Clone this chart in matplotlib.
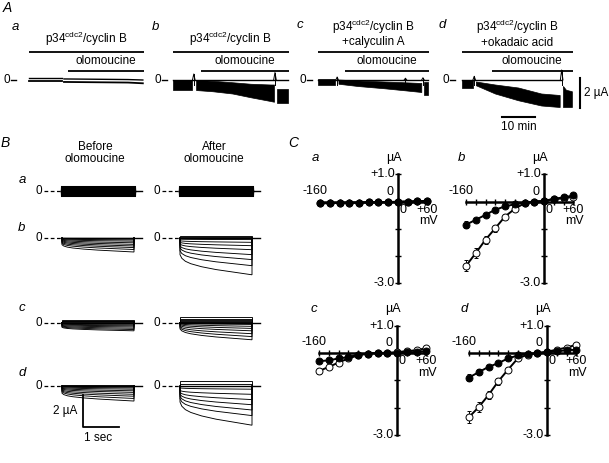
import matplotlib.pyplot as plt

plt.rcParams["font.family"] = ["Liberation Sans", "DejaVu Sans"]
plt.rcParams["mathtext.default"] = "regular"
plt.rcParams["font.size"] = 8.5

W, H = 609, 463

# ---------------- Panel A: chart records (time in min, current in uA) ----------------
A_TITLES = ["p34$^{cdc2}$/cyclin B", "p34$^{cdc2}$/cyclin B",
            "p34$^{cdc2}$/cyclin B\n+calyculin A", "p34$^{cdc2}$/cyclin B\n+okadaic acid"]
A_LETTERS = ["a", "b", "c", "d"]
A_P34_END = [34.8, 35.0, 33.5, 33.5]
A_OLO_START = [11.8, 8.5, 8.2, 9.1]
A_ZERO_X = [-5.8, -3.6, -3.6, -3.9]

# a: double thin line
AA_T1, AA_HI1, AA_LO1 = [0, 10.0], [0.13, 0.13], [-0.07, -0.07]
AA_T2, AA_HI2, AA_LO2 = [10.6, 30, 34.5], [0.07, 0.03, 0.0], [-0.13, -0.17, -0.22]

# b
AB_T1, AB_HI1, AB_LO1 = [0, 5.8], [0, 0], [-0.67, -0.67]
AB_T2 = [7.0, 12, 18, 23.5, 29.5, 30.6]
AB_HI2 = [0, -0.05, -0.15, -0.25, -0.3, -0.3]
AB_LO2 = [-0.67, -0.75, -0.9, -1.15, -1.4, -1.45]
AB_T3, AB_HI3, AB_LO3 = [31.5, 34.8], [-0.6, -0.6], [-1.55, -1.55]
AB_SPIKE_T, AB_SPIKE_PEAK = [6.3, 30.9], [0.4, 0.5]
AB_ZERO_END = 34.8

# c
AC_T1, AC_HI1, AC_LO1 = [0, 5.2], [0.07, 0.07], [-0.3, -0.3]
AC_T2 = [6.2, 12, 20, 26, 31.3]
AC_HI2 = [0.03, -0.03, -0.1, -0.15, -0.2]
AC_LO2 = [-0.25, -0.4, -0.55, -0.68, -0.8]
AC_T3, AC_HI3, AC_LO3 = [32.2, 33.3], [-0.1, -0.1], [-1.0, -1.0]
AC_SPIKE_T, AC_SPIKE_PEAK = [5.8, 26.5, 31.8], [0.2, 0.12, 0.15]
AC_ZERO_END = 33.3

# d
AD_T1, AD_HI1, AD_LO1 = [0, 3.3], [0.03, 0.03], [-0.53, -0.53]
AD_T2 = [4.2, 10, 17, 24, 29.6]
AD_HI2 = [-0.1, -0.3, -0.5, -0.9, -1.0]
AD_LO2 = [-0.35, -0.9, -1.35, -1.7, -1.8]
AD_T3, AD_HI3, AD_LO3 = [30.6, 31.5, 33.3], [-0.4, -0.65, -0.75], [-1.8, -1.8, -1.8]
AD_SPIKE_T, AD_SPIKE_PEAK = [3.7, 30.2], [0.25, 0.67]
AD_ZERO_END = 30.0

# ---------------- Panel B: current families (time in s, current in uA) ----------------
B_SHAPE_T = [0, 0.05, 0.15, 0.3, 0.6, 1.0, 1.5, 2.0]
B_SHAPE_F = [0, 0.18, 0.33, 0.45, 0.6, 0.74, 0.87, 1.0]

BA_LEVELS = [0.25, 0.2, 0.15, 0.1, 0.05, 0.0, -0.05, -0.1, -0.15, -0.2, -0.25]

BB_BEFORE_START = [-0.42, -0.34, -0.28, -0.22, -0.17, -0.12, -0.08, -0.05, -0.03, -0.01, 0.0, 0.02]
BB_BEFORE_END = [-0.875, -0.72, -0.6, -0.5, -0.4, -0.3, -0.2, -0.12, -0.06, -0.02, 0.0, 0.02]
BB_AFTER_START = [-1.04, -0.8, -0.62, -0.5, -0.38, -0.27, -0.17, -0.07, 0.0, 0.05, 0.1]
BB_AFTER_END = [-2.3, -1.73, -1.35, -1.04, -0.73, -0.48, -0.27, -0.1, 0.0, 0.05, 0.1]

BC_BEFORE_START = [-0.3, -0.26, -0.22, -0.18, -0.14, -0.1, -0.06, -0.03, 0.0, 0.04, 0.08, 0.12, 0.16]
BC_BEFORE_END = [-0.52, -0.44, -0.36, -0.28, -0.21, -0.15, -0.09, -0.04, 0.0, 0.04, 0.08, 0.12, 0.16]
BC_AFTER_START = [-0.4, -0.32, -0.25, -0.18, -0.12, -0.07, -0.03, 0.0, 0.05, 0.1, 0.17, 0.25, 0.33]
BC_AFTER_END = [-1.08, -0.88, -0.7, -0.52, -0.37, -0.24, -0.12, -0.03, 0.05, 0.1, 0.17, 0.25, 0.33]

BD_BEFORE_START = [-0.45, -0.36, -0.3, -0.24, -0.18, -0.13, -0.09, -0.05, -0.02, 0.0, 0.02, 0.05]
BD_BEFORE_END = [-0.94, -0.78, -0.64, -0.52, -0.4, -0.3, -0.2, -0.12, -0.06, -0.02, 0.02, 0.05]
BD_AFTER_START = [-1.0, -0.8, -0.65, -0.52, -0.4, -0.28, -0.12, 0.0, 0.15, 0.3]
BD_AFTER_END = [-2.45, -1.85, -1.5, -1.17, -0.85, -0.52, -0.2, 0.0, 0.15, 0.3]

# ---------------- Panel C: I-V relations (mV, uA) ----------------
IV_MV = [-160, -140, -120, -100, -80, -60, -40, -20, 0, 20, 40, 60]
CA_FILLED = [-0.06, -0.05, -0.05, -0.04, -0.04, -0.03, -0.03, -0.02, -0.01, 0.0, 0.01, 0.02]
CA_OPEN = [-0.07, -0.06, -0.05, -0.05, -0.04, -0.03, -0.03, -0.02, -0.01, 0.0, 0.01, 0.02]
CB_FILLED = [-0.85, -0.67, -0.49, -0.3, -0.18, -0.1, -0.04, 0.0, 0.02, 0.1, 0.15, 0.22]
CB_OPEN = [-2.36, -1.89, -1.4, -0.98, -0.55, -0.27, -0.06, 0.0, 0.02, 0.08, 0.12, 0.18]
CC_FILLED = [-0.3, -0.27, -0.2, -0.15, -0.06, -0.02, 0.0, 0.0, 0.0, 0.02, 0.04, 0.07]
CC_OPEN = [-0.66, -0.51, -0.35, -0.2, -0.09, -0.02, 0.0, 0.01, 0.03, 0.07, 0.1, 0.18]
CD_FILLED = [-0.9, -0.7, -0.51, -0.37, -0.2, -0.09, -0.03, 0.0, 0.02, 0.06, 0.1, 0.12]
CD_OPEN = [-2.35, -1.98, -1.54, -1.04, -0.61, -0.2, -0.06, 0.0, 0.05, 0.12, 0.2, 0.3]
CA_ERR = [0.03, 0.03, 0.02, 0.02, 0.02, 0.02, 0.01, 0.01, 0.01, 0.01, 0.01, 0.01]
CB_FILLED_ERR = [0.12, 0.08, 0.06, 0.05, 0.04, 0.03, 0.02, 0.02, 0.02, 0.02, 0.03, 0.03]
CB_OPEN_ERR = [0.2, 0.18, 0.15, 0.12, 0.09, 0.06, 0.04, 0.02, 0.02, 0.03, 0.03, 0.04]
CC_FILLED_ERR = [0.06, 0.05, 0.04, 0.03, 0.02, 0.02, 0.01, 0.01, 0.01, 0.02, 0.02, 0.03]
CC_OPEN_ERR = [0.1, 0.08, 0.06, 0.05, 0.03, 0.02, 0.02, 0.01, 0.02, 0.03, 0.04, 0.06]
CD_FILLED_ERR = [0.14, 0.1, 0.07, 0.05, 0.04, 0.03, 0.02, 0.02, 0.02, 0.03, 0.03, 0.04]
CD_OPEN_ERR = [0.22, 0.18, 0.15, 0.12, 0.09, 0.06, 0.04, 0.02, 0.03, 0.04, 0.05, 0.08]


def px_box(left, top, width, height):
    return [left / W, 1 - (top + height) / H, width / W, height / H]


def bare(ax):
    ax.set_axis_off()
    ax.patch.set_visible(False)


fig = plt.figure(figsize=(W / 100, H / 100), dpi=100)

# ---------------- A ----------------
A_PX_MIN, A_PX_UA = 3.3, 15.0
A_START_PX = [29, 173, 318, 462]
A_BASE_PX = 80
A_XLIM, A_YLIM = (-8, 38), (-2.7, 2.7)

a_segments = [
    None,
    [(AB_T1, AB_HI1, AB_LO1), (AB_T2, AB_HI2, AB_LO2), (AB_T3, AB_HI3, AB_LO3)],
    [(AC_T1, AC_HI1, AC_LO1), (AC_T2, AC_HI2, AC_LO2), (AC_T3, AC_HI3, AC_LO3)],
    [(AD_T1, AD_HI1, AD_LO1), (AD_T2, AD_HI2, AD_LO2), (AD_T3, AD_HI3, AD_LO3)],
]
a_spikes = [None, (AB_SPIKE_T, AB_SPIKE_PEAK), (AC_SPIKE_T, AC_SPIKE_PEAK), (AD_SPIKE_T, AD_SPIKE_PEAK)]
a_zero_end = [None, AB_ZERO_END, AC_ZERO_END, AD_ZERO_END]

for i in range(4):
    left = A_START_PX[i] - (0 - A_XLIM[0]) * A_PX_MIN
    top = A_BASE_PX - A_YLIM[1] * A_PX_UA
    ax = fig.add_axes(px_box(left, top, (A_XLIM[1] - A_XLIM[0]) * A_PX_MIN,
                             (A_YLIM[1] - A_YLIM[0]) * A_PX_UA))
    ax.set_xlim(*A_XLIM)
    ax.set_ylim(*A_YLIM)
    bare(ax)
    # drug bars
    ax.plot([0, A_P34_END[i]], [1.87, 1.87], color="k", lw=1.3, solid_capstyle="butt")
    ax.plot([A_OLO_START[i], A_P34_END[i]], [0.63, 0.63], color="k", lw=1.3, solid_capstyle="butt")
    ax.text(A_P34_END[i] / 2, 2.1, A_TITLES[i], ha="center", va="bottom", linespacing=1.0)
    ax.text((A_OLO_START[i] + A_P34_END[i]) / 2, 0.85, "olomoucine", ha="center", va="bottom")
    ax.text(A_ZERO_X[i], 0, "0", ha="right", va="center")
    ax.plot([A_ZERO_X[i] + 0.4, A_ZERO_X[i] + 1.9], [0, 0], color="k", lw=1.0)
    if i == 0:
        for t, hi, lo in [(AA_T1, AA_HI1, AA_LO1), (AA_T2, AA_HI2, AA_LO2)]:
            ax.plot(t, hi, color="k", lw=1.0)
            ax.plot(t, lo, color="k", lw=1.3)
        continue
    ax.plot([0, a_zero_end[i]], [0, 0], color="k", lw=1.0)
    for t, hi, lo in a_segments[i]:
        ax.fill_between(t, hi, lo, color="k", lw=0.5, edgecolor="k")
    for t, peak in zip(*a_spikes[i]):
        ax.plot([t - 0.4, t, t + 0.4], [0, peak, 0], color="k", lw=0.7)
        ax.plot([t, t], [peak, -0.3], color="k", lw=0.7)
    if i == 3:
        ax.plot([35.8, 35.8], [0.13, -1.87], color="k", lw=1.5, clip_on=False)
        ax.text(37.0, -0.87, "2 µA", ha="left", va="center")
        ax.plot([12.1, 22.1], [-2.47, -2.47], color="k", lw=1.5, clip_on=False)
        ax.text(17.1, -2.75, "10 min", ha="center", va="top")

# ---------------- B ----------------
B_PX_S, B_PX_UA = 36.0, 16.0
B_XLIM, B_YLIM = (-0.8, 2.3), (-2.8, 0.8)
B_START_PX = [62, 180]
B_BASE_PX = [191, 238, 322.5, 386]

b_families = [
    [(BA_LEVELS, BA_LEVELS), (BA_LEVELS, BA_LEVELS)],
    [(BB_BEFORE_START, BB_BEFORE_END), (BB_AFTER_START, BB_AFTER_END)],
    [(BC_BEFORE_START, BC_BEFORE_END), (BC_AFTER_START, BC_AFTER_END)],
    [(BD_BEFORE_START, BD_BEFORE_END), (BD_AFTER_START, BD_AFTER_END)],
]

b_axes = {}
for r in range(4):
    for c in range(2):
        left = B_START_PX[c] - (0 - B_XLIM[0]) * B_PX_S
        top = B_BASE_PX[r] - B_YLIM[1] * B_PX_UA
        ax = fig.add_axes(px_box(left, top, (B_XLIM[1] - B_XLIM[0]) * B_PX_S,
                                 (B_YLIM[1] - B_YLIM[0]) * B_PX_UA))
        ax.set_xlim(*B_XLIM)
        ax.set_ylim(*B_YLIM)
        bare(ax)
        b_axes[(r, c)] = ax
        starts, ends = b_families[r][c]
        lw = 2.2 if r == 0 else 0.65
        for s, e in zip(starts, ends):
            t = [0] + B_SHAPE_T + [2.0]
            y = [0] + [s + (e - s) * f for f in B_SHAPE_F] + [0]
            ax.plot(t, y, color="k", lw=lw, solid_joinstyle="miter")
        ax.plot([0, 2.22], [0, 0], color="k", lw=1.0)
        ax.plot([-0.5, 0], [0, 0], color="k", lw=0.9, dashes=(3, 2))
        ax.text(-0.56, 0, "0", ha="right", va="center")

fig.text(95 / W, 1 - 153 / H, "Before\nolomoucine", ha="center", va="center", linespacing=1.0)
fig.text(214 / W, 1 - 153 / H, "After\nolomoucine", ha="center", va="center", linespacing=1.0)
for letter, y in zip(["a", "b", "c", "d"], [180, 228, 308, 373]):
    fig.text(22 / W, 1 - y / H, letter, ha="center", va="center", style="italic", fontsize=9.5)

ax = b_axes[(3, 0)]
ax.plot([0.58, 0.58, 1.58], [-0.56, -2.56, -2.56], color="k", lw=1.3, clip_on=False)
ax.text(0.44, -1.56, "2 µA", ha="right", va="center")
ax.text(1.0, -2.85, "1 sec", ha="center", va="top")

# ---------------- C ----------------
C_PX_MV, C_PX_UA = 0.4875, 27.3
C_XLIM, C_YLIM = (-170, 70), (-3.1, 1.1)
C_AXIS_PX = [(398, 201.5), (544, 201.5), (397, 353), (547, 353)]
c_data = [
    (CA_FILLED, CA_ERR, CA_OPEN, CA_ERR),
    (CB_FILLED, CB_FILLED_ERR, CB_OPEN, CB_OPEN_ERR),
    (CC_FILLED, CC_FILLED_ERR, CC_OPEN, CC_OPEN_ERR),
    (CD_FILLED, CD_FILLED_ERR, CD_OPEN, CD_OPEN_ERR),
]
for i, (filled, ferr, opened, oerr) in enumerate(c_data):
    x0, y0 = C_AXIS_PX[i]
    left = x0 + C_XLIM[0] * C_PX_MV
    top = y0 - C_YLIM[1] * C_PX_UA
    ax = fig.add_axes(px_box(left, top, (C_XLIM[1] - C_XLIM[0]) * C_PX_MV,
                             (C_YLIM[1] - C_YLIM[0]) * C_PX_UA))
    ax.set_xlim(*C_XLIM)
    ax.set_ylim(*C_YLIM)
    ax.patch.set_visible(False)
    for s in ["top", "right"]:
        ax.spines[s].set_visible(False)
    for s in ["left", "bottom"]:
        ax.spines[s].set_position(("data", 0))
        ax.spines[s].set_linewidth(1.8)
    ax.spines["left"].set_bounds(-3, 1)
    ax.spines["bottom"].set_bounds(-160, 60)
    ax.set_xticks(IV_MV)
    ax.set_yticks([-3, -2, -1, 0, 1])
    ax.tick_params(direction="inout", length=4, width=1.0, labelbottom=False, labelleft=False)
    ax.errorbar(IV_MV, opened, yerr=oerr, fmt="-o", color="k", mfc="white", ms=5, mew=0.7,
                lw=1.4, elinewidth=0.7, capsize=1.5, clip_on=False, zorder=3)
    ax.errorbar(IV_MV, filled, yerr=ferr, fmt="-o", color="k", mfc="k", ms=5, mew=0.7,
                lw=1.4, elinewidth=0.7, capsize=1.5, clip_on=False, zorder=4)
    ax.text(-170, 0.4, "-160", ha="center", va="center", fontsize=9)
    ax.text(-16, 0.35, "0", ha="center", va="center", fontsize=9)
    ax.text(10, -0.3, "0", ha="center", va="center", fontsize=9)
    ax.text(60, -0.3, "+60", ha="center", va="center", fontsize=9)
    ax.text(62, -0.73, "mV", ha="center", va="center", fontsize=9)
    ax.text(-8, 1.6, "µA", ha="center", va="center", fontsize=9)
    ax.text(-6, 1.0, "+1.0", ha="right", va="center", fontsize=9)
    ax.text(-6, -3.0, "-3.0", ha="right", va="center", fontsize=9)
    ax.text(-170, 1.6, "abcd"[i], ha="center", va="center", style="italic", fontsize=9.5)

# panel letters
fig.text(7 / W, 1 - 8 / H, "A", ha="center", va="center", style="italic", fontsize=10)
fig.text(5 / W, 1 - 143 / H, "B", ha="center", va="center", style="italic", fontsize=10)
fig.text(293 / W, 1 - 143 / H, "C", ha="center", va="center", style="italic", fontsize=10)
for letter, (x, y) in zip(A_LETTERS, [(15, 27), (155, 27), (300, 25), (442, 25)]):
    fig.text(x / W, 1 - y / H, letter, ha="center", va="center", style="italic", fontsize=9.5)

fig.savefig("out.png", dpi=100)
plt.close(fig)
